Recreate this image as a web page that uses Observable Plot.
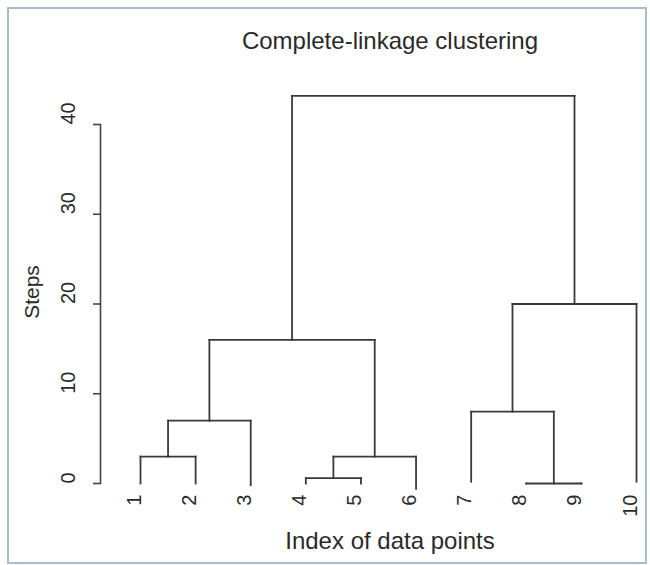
<!DOCTYPE html>
<html>
<head>
<meta charset="utf-8">
<script src="https://cdn.jsdelivr.net/npm/d3@7"></script>
<script src="https://cdn.jsdelivr.net/npm/@observablehq/plot@0.6"></script>
<style>
  html, body { margin: 0; padding: 0; background: #ffffff; }
  #wrap { position: relative; width: 650px; height: 565px; font-family: "Liberation Sans", Arial, Helvetica, sans-serif; color: #2a2a2a; }
  #border { position: absolute; left: 7px; top: 7px; width: 636px; height: 553px; border: 2px solid #a9bcd4; box-sizing: content-box; }
  .lbl { position: absolute; white-space: nowrap; color: #2a2a2a; line-height: 1; }
  #title { left: 390px; top: 29px; font-size: 24px; transform: translateX(-50%); }
  #xlab { left: 390px; top: 529px; font-size: 24px; transform: translateX(-50%); }
  #ylab { left: 31px; top: 292px; font-size: 21px; transform: translate(-50%, -50%) rotate(-90deg); }
  #chart { position: absolute; left: 0; top: 0; }
</style>
</head>
<body>
<div id="wrap">
  <div id="border"></div>
  <div id="chart"></div>
  <div class="lbl" id="title">Complete-linkage clustering</div>
  <div class="lbl" id="xlab">Index of data points</div>
  <div class="lbl" id="ylab">Steps</div>
</div>
<script>
// Leaf labels (in plotted order)
const leaves = ["1", "2", "3", "4", "5", "6", "7", "8", "9", "10"];
// Bottom end of each leaf's hanging line (in "Steps" units)
const leafBottom = [0, 0, -0.2, 0, 0, -0.6, 0.2, 0, 0, 0.2];
// Merge table, R hclust style: negative = leaf index, positive = earlier merge (1-based)
const mergeLeft   = [-4, -8, -1, 1, 3, -7, 5, 6, 7];
const mergeRight  = [-5, -9, -2, -6, -3, 2, 4, -10, 8];
const mergeHeight = [0.6, 0, 3, 3, 7, 8, 16, 20, 43.2];
// Y-axis ticks
const yTicks = [0, 10, 20, 30, 40];

// Build dendrogram segments in data units
const nodePos = [];
const segs = [];
function child(c) {
  if (c < 0) { const k = -c; return {x: k, bottom: leafBottom[k - 1]}; }
  return {x: nodePos[c - 1], bottom: mergeHeight[c - 1]};
}
mergeHeight.forEach((h, i) => {
  const L = child(mergeLeft[i]), R = child(mergeRight[i]);
  segs.push({x1: L.x, y1: L.bottom, x2: L.x, y2: h});
  segs.push({x1: R.x, y1: R.bottom, x2: R.x, y2: h});
  segs.push({x1: L.x, y1: h, x2: R.x, y2: h});
  nodePos.push((L.x + R.x) / 2);
});
const leafData = leaves.map((t, i) => ({x: i + 1, t}));

const chart = Plot.plot({
  width: 650,
  height: 565,
  marginLeft: 100,
  marginRight: 10,
  marginTop: 124,
  marginBottom: 82,
  style: {fontFamily: '"Liberation Sans", Arial, Helvetica, sans-serif', fontSize: "20px", color: "#2a2a2a", background: "transparent", overflow: "visible"},
  x: {domain: [1, 10], range: [140, 636], axis: null},
  y: {domain: [0, 40], axis: null},
  marks: [
    Plot.frame({anchor: "left", stroke: "#444", strokeWidth: 1.6}),
    Plot.axisY({ticks: yTicks, tickSize: 7, tickFormat: () => "", stroke: "#444", strokeWidth: 1.6}),
    Plot.text(yTicks, {y: d => d, text: d => String(d), frameAnchor: "left", dx: -32, rotate: -90, fontSize: 20, fill: "#2a2a2a"}),
    Plot.link(segs, {x1: "x1", y1: "y1", x2: "x2", y2: "y2", stroke: "#3a3a3a", strokeWidth: 1.8, strokeLinecap: "square"}),
    Plot.text(leafData, {x: "x", text: "t", frameAnchor: "bottom", dy: 11, rotate: -90, textAnchor: "end", fontSize: 20, fill: "#2a2a2a"})
  ]
});
document.getElementById("chart").appendChild(chart);
</script>
</body>
</html>
